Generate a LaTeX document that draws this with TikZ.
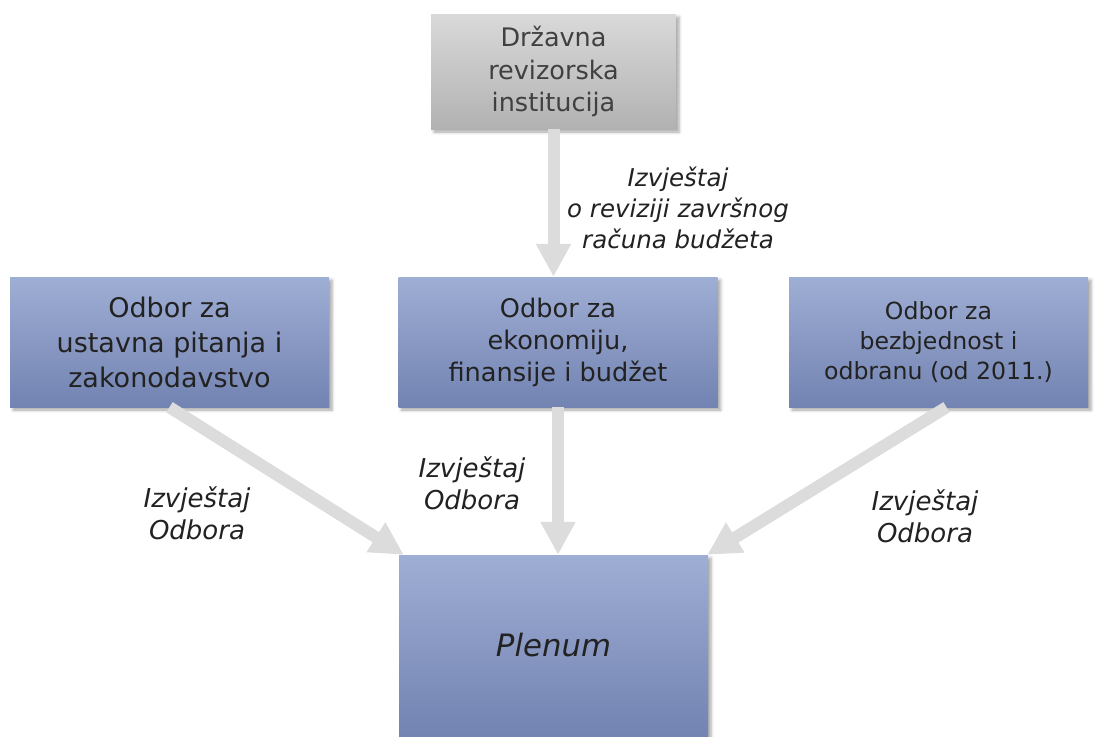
\documentclass[tikz,border=0pt]{standalone}
\usepackage{fontspec}
\setmainfont{DejaVu Sans}
\usetikzlibrary{arrows.meta,shadows.blur,calc}
\definecolor{bluetop}{HTML}{9EAED4}
\definecolor{bluebot}{HTML}{7383B2}
\definecolor{graytop}{HTML}{D9D9D9}
\definecolor{graybot}{HTML}{B2B2B2}
\definecolor{arrowgray}{HTML}{DCDCDC}
\definecolor{txt}{HTML}{222222}
\definecolor{graytxt}{HTML}{404040}
\begin{document}
\begin{tikzpicture}[x=1pt,y=-1pt,
  box/.style={rectangle, inner sep=0pt, align=center, text=txt,
    blur shadow={shadow xshift=3pt,shadow yshift=-3pt,shadow blur radius=3pt,shadow opacity=35}},
  bluebox/.style={box, top color=bluetop, bottom color=bluebot},
  graybox/.style={box, top color=graytop, bottom color=graybot, text=graytxt},
  flow/.style={draw=arrowgray, line width=12pt, -{Triangle[width=33pt,length=33pt]}},
  lbl/.style={align=center, text=txt, font=\itshape\fontsize{26}{32}\selectfont}]
\useasboundingbox (0,0) rectangle (1099,736);
\clip (0,0) rectangle (1099,736);
\node[graybox, minimum width=245pt, minimum height=115pt, font=\fontsize{25.5}{32.5}\selectfont]
  (dri) at (553.5,71.5) {Državna\\revizorska\\institucija};
\node[bluebox, minimum width=319pt, minimum height=130pt, font=\fontsize{27}{35}\selectfont]
  (ust) at (169.5,342) {Odbor za\\ustavna pitanja i\\zakonodavstvo};
\node[bluebox, minimum width=319pt, minimum height=130pt, font=\fontsize{25.6}{32}\selectfont]
  (eko) at (558,342) {Odbor za\\ekonomiju,\\finansije i budžet};
\node[bluebox, minimum width=299pt, minimum height=130pt, font=\fontsize{23.6}{30}\selectfont]
  (bez) at (938.5,342) {Odbor za\\bezbjednost i\\odbranu (od 2011.)};
\node[bluebox, minimum width=309pt, minimum height=181pt, font=\itshape\fontsize{30.8}{36}\selectfont]
  (ple) at (553.5,645.5) {Plenum};
\draw[flow] (dri.south) -- (dri.south |- eko.north);
\draw[flow] (eko.south) -- (eko.south |- ple.north);
\draw[flow] (ust.south) -- ($(ple.north west)+(5,0)$);
\draw[flow] ($(bez.south)+(8,0)$) -- ($(ple.north east)+(-1,0)$);
\node[lbl, font=\itshape\fontsize{24.5}{31}\selectfont] (l1) at (678,208) {Izvještaj\\o reviziji završnog\\računa budžeta};
\node[lbl] (l2) at (197,513) {Izvještaj\\Odbora};
\node[lbl] (l3) at (472,483) {Izvještaj\\Odbora};
\node[lbl] (l4) at (925,516) {Izvještaj\\Odbora};
\end{tikzpicture}
\end{document}
